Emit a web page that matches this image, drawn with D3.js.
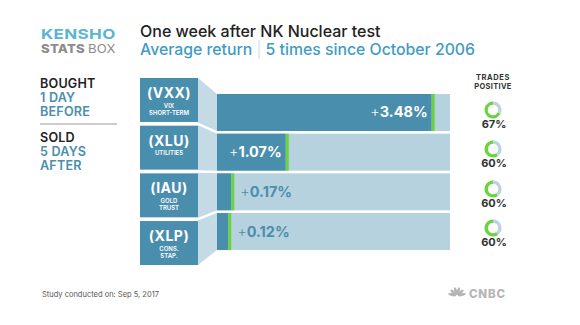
<!DOCTYPE html>
<html><head><meta charset="utf-8">
<script src="https://cdn.jsdelivr.net/npm/d3@7"></script>
<style>
html,body{margin:0;padding:0;background:#fff;}
svg{display:block;font-family:Inter, "Open Sans", sans-serif;}
</style></head>
<body>
<svg id="chart" width="580" height="325"></svg>
<script>
const tickers = ["(VXX)", "(XLU)", "(IAU)", "(XLP)"];
const names = [["VIX", "SHORT-TERM"], ["UTILITIES"], ["GOLD", "TRUST"], ["CONS.", "STAP."]];
const returns = [3.48, 1.07, 0.17, 0.12];
const positive = [67, 60, 60, 60];

const svg = d3.select("#chart");
const teal = "#4a8eae", light = "#b6d2df", green = "#6ad33f", dark = "#222";

// header
svg.append("text").attr("transform", "translate(41,38.5) scale(1.25,1)").attr("font-size", 13.6)
  .attr("font-weight", 700).attr("letter-spacing", 0.3).attr("fill", "#5ab5d0").text("KENSHO");
const sb = svg.append("text").attr("transform", "translate(41,52.5) scale(1.14,1)").attr("font-size", 11.5)
  .attr("letter-spacing", 0.2).attr("fill", "#8c8c8c");
sb.append("tspan").attr("font-weight", 800).text("STATS ");
sb.append("tspan").attr("font-weight", 400).text("BOX");

svg.append("text").attr("x", 140).attr("y", 37).attr("font-size", 16).attr("font-weight", 500)
  .attr("fill", dark).text("One week after NK Nuclear test");
const st = svg.append("text").attr("x", 140).attr("y", 54.5).attr("font-size", 15.8).attr("font-weight", 500).attr("fill", "#3f9cc2");
st.append("tspan").text("Average return ");
st.append("tspan").attr("fill", "#c6dce6").attr("font-weight", 300).text("|");
st.append("tspan").text(" 5 times since October 2006");

// left legend
const leftLines = [["BOUGHT", dark, 88], ["1 DAY", teal, 102], ["BEFORE", teal, 116],
                   ["SOLD", dark, 142], ["5 DAYS", teal, 156], ["AFTER", teal, 170]];
svg.selectAll("text.left").data(leftLines).join("text").attr("class", "left")
  .attr("x", 40).attr("y", d => d[2]).attr("font-size", 12.6).attr("font-weight", 600)
  .attr("letter-spacing", 0.2).attr("fill", d => d[1]).text(d => d[0]);
svg.append("line").attr("x1", 40).attr("x2", 117).attr("y1", 124).attr("y2", 124)
  .attr("stroke", "#9a9a9a").attr("stroke-width", 1);

// scales
const boxY = d3.scaleBand().domain(tickers).range([78, 265]).paddingInner(0.078);
const barY = d3.scaleBand().domain(tickers).range([94, 250]).paddingInner(0.068);
const x = d3.scaleLinear().domain([0, 3.8]).range([221, 451]);
const boxX0 = 140, boxX1 = 198, barX0 = 217, barX1 = 450;

// connector
const topB = boxY(tickers[0]), botB = boxY(tickers[3]) + boxY.bandwidth();
const topR = barY(tickers[0]), botR = barY(tickers[3]) + barY.bandwidth();
svg.append("path").attr("d", `M${boxX1},${topB}L${barX0},${topR}L${barX0},${botR}L${boxX1},${botB}Z`)
  .attr("fill", "#c4dae4");
for (let i = 1; i < tickers.length; i++) {
  const yl = (boxY(tickers[i - 1]) + boxY.bandwidth() + boxY(tickers[i])) / 2;
  const yr = (barY(tickers[i - 1]) + barY.bandwidth() + barY(tickers[i])) / 2;
  svg.append("line").attr("x1", boxX1).attr("y1", yl).attr("x2", barX0).attr("y2", yr)
    .attr("stroke", "#fff").attr("stroke-width", 2.5);
}

// boxes
const boxes = svg.selectAll("g.box").data(tickers).join("g").attr("class", "box");
boxes.append("rect").attr("x", boxX0).attr("y", d => boxY(d)).attr("width", boxX1 - boxX0)
  .attr("height", boxY.bandwidth()).attr("fill", teal);
boxes.append("text").attr("x", (boxX0 + boxX1) / 2).attr("y", d => boxY(d) + 20)
  .attr("text-anchor", "middle").attr("font-size", 14).attr("font-weight", 700).attr("fill", "#fff")
  .attr("letter-spacing", 0.5).text(d => d);
boxes.each(function (d, i) {
  d3.select(this).selectAll("text.sub").data(names[i]).join("text").attr("class", "sub")
    .attr("x", (boxX0 + boxX1) / 2).attr("y", (n, j) => boxY(d) + 29.5 + j * 7)
    .attr("text-anchor", "middle").attr("font-size", 6).attr("font-weight", 600).attr("fill", "#fff")
    .text(n => n);
});

// bars
const rows = svg.selectAll("g.row").data(tickers).join("g").attr("class", "row");
rows.append("rect").attr("x", barX0).attr("y", d => barY(d)).attr("width", barX1 - barX0)
  .attr("height", barY.bandwidth()).attr("fill", light);
rows.append("rect").attr("x", barX0).attr("y", d => barY(d))
  .attr("width", (d, i) => x(returns[i]) - barX0).attr("height", barY.bandwidth()).attr("fill", teal);
rows.append("rect").attr("x", (d, i) => x(returns[i])).attr("y", d => barY(d))
  .attr("width", 3).attr("height", barY.bandwidth()).attr("fill", green);
rows.append("text")
  .attr("x", (d, i) => returns[i] > 0.5 ? x(returns[i]) - 4 : x(returns[i]) + 9)
  .attr("y", d => barY(d) + barY.bandwidth() / 2 + 5)
  .attr("text-anchor", (d, i) => returns[i] > 0.5 ? "end" : "start")
  .attr("font-size", 14.5).attr("font-weight", 700)
  .attr("fill", (d, i) => returns[i] > 0.5 ? "#fff" : teal)
  .each(function (d, i) {
    const t = d3.select(this);
    t.append("tspan").attr("font-weight", 300).text("+");
    t.append("tspan").text(returns[i].toFixed(2) + "%");
  });

// trades positive
const cx = 493;
svg.append("text").attr("x", cx).attr("y", 80).attr("text-anchor", "middle").attr("font-size", 7.5)
  .attr("font-weight", 700).attr("letter-spacing", 0.6).attr("fill", "#333").text("TRADES");
svg.append("text").attr("x", cx).attr("y", 89).attr("text-anchor", "middle").attr("font-size", 7.5)
  .attr("font-weight", 700).attr("letter-spacing", 0.3).attr("fill", "#333").text("POSITIVE");
const donutY = [110, 149, 189, 228];
const arc = d3.arc().innerRadius(5.2).outerRadius(8.5);
const pie = d3.pie().sort(null).startAngle(0).endAngle(2 * Math.PI);
positive.forEach((p, i) => {
  const g = svg.append("g").attr("transform", `translate(${cx},${donutY[i]})`);
  g.selectAll("path").data(pie([100 - p, p])).join("path").attr("d", arc)
    .attr("fill", (d, j) => j === 0 ? "#bcd4e2" : green);
  svg.append("text").attr("x", cx + 1).attr("y", donutY[i] + 18).attr("text-anchor", "middle")
    .attr("font-size", 11).attr("font-weight", 700).attr("fill", "#333").text(p + "%");
});

// footer
svg.append("text").attr("x", 42).attr("y", 297).attr("font-size", 7.5).attr("fill", "#555")
  .text("Study conducted on: Sep 5, 2017");
const logo = svg.append("g").attr("transform", "translate(457,296)");
[-165, -135, -105, -75, -45, -15].forEach(a => {
  logo.append("ellipse").attr("cx", 0).attr("cy", -5).attr("rx", 1.4).attr("ry", 4)
    .attr("fill", "#b5b5b5").attr("transform", `rotate(${a + 90})`);
});
svg.append("text").attr("x", 469).attr("y", 298).attr("font-size", 11.5).attr("font-weight", 800)
  .attr("letter-spacing", 0.8).attr("fill", "#b5b5b5").text("CNBC");
</script>
</body></html>
